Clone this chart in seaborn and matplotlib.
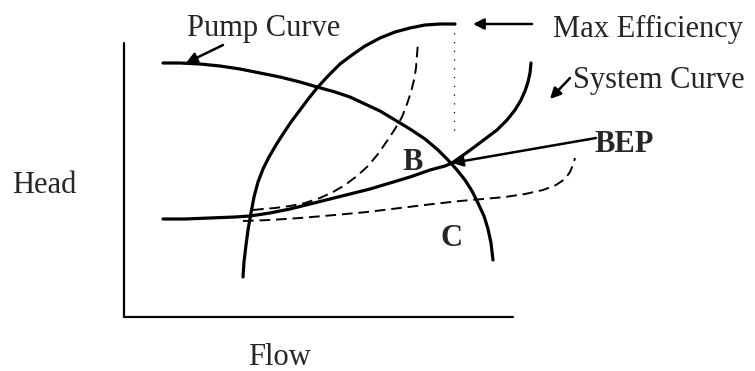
import numpy as np
import pandas as pd
import matplotlib
matplotlib.use("Agg")
import matplotlib.pyplot as plt
import seaborn as sns

# Kurven-Punkte (Pixel, y nach unten)
pump_x = [163, 180, 200, 220, 240, 260, 280, 300, 317, 335, 350, 365, 380, 395,
          410, 425, 438, 448, 457, 465, 472, 478, 484, 488, 491, 493]
pump_y = [63, 63, 64, 66, 69, 73, 77, 82, 87, 92, 97, 104, 111, 120,
          129, 139, 150, 160, 170, 180, 191, 203, 216, 229, 243, 260]

eff_x = [243, 244, 246, 248, 251, 254, 258, 263, 269, 276, 283, 291, 300, 309,
         317, 328, 340, 352, 365, 380, 395, 410, 425, 440, 455]
eff_y = [277, 262, 245, 230, 213, 197, 182, 169, 157, 145, 134, 122, 110, 98,
         88, 76, 64, 55, 46, 38, 32, 28, 25, 24, 24]

inner_x = [253, 263, 275, 290, 305, 320, 333, 345, 357, 368, 378, 387, 395, 402,
           407, 411, 414, 416, 417, 418]
inner_y = [210, 209, 208, 206, 203, 198, 192, 185, 176, 166, 154, 141, 129, 117,
           104, 92, 80, 68, 55, 42]

outer_x = [243, 270, 300, 335, 367, 400, 433, 460, 483, 505, 525, 543, 556, 565,
           570, 573, 575]
outer_y = [221, 220, 218, 215, 212, 208, 204, 201, 199, 197, 194, 190, 185, 179,
           172, 165, 158]

sys_x = [163, 185, 210, 235, 250, 270, 290, 310, 330, 350, 370, 390, 410, 430,
         445, 452, 462, 473, 485, 497, 507, 515, 521, 525, 528, 530, 531]
sys_y = [219, 219, 218, 217, 216, 213, 209, 204, 199, 194, 189, 183, 177, 170,
         166, 163, 156, 148, 139, 130, 120, 110, 100, 91, 82, 73, 63]

bep_point = (452, 163)

sns.set_theme(style="white")
plt.rcParams["font.family"] = ["Liberation Serif", "DejaVu Serif"]

W, H = 755, 371
fig = plt.figure(figsize=(W / 100, H / 100), dpi=100)
ax = fig.add_axes([0, 0, 1, 1])
ax.set_xlim(0, W)
ax.set_ylim(H, 0)
ax.axis("off")

thick = 2.3
# durchgezogene Kurven
for xs, ys in [(pump_x, pump_y), (eff_x, eff_y), (sys_x, sys_y)]:
    sns.lineplot(x=xs, y=ys, sort=False, estimator=None, ax=ax,
                 color="black", linewidth=thick)

# gestrichelte Kurven
for xs, ys in [(inner_x, inner_y), (outer_x, outer_y)]:
    sns.lineplot(x=xs, y=ys, sort=False, estimator=None, ax=ax,
                 color="black", linewidth=1.4, dashes=False,
                 linestyle=(0, (5.5, 3)))

# gepunktete Linie vom Maximum nach unten
ax.plot([454, 454], [24, 135], color="black", linewidth=0.9,
        linestyle=(0, (1, 6)))

# Achsen
ax.plot([124, 124], [43, 317], color="black", linewidth=1.6)
ax.plot([124, 513], [317, 317], color="black", linewidth=1.6)

arrow = dict(arrowstyle="-|>", color="black", lw=1.8,
             mutation_scale=16, shrinkA=0, shrinkB=0)
ax.annotate("", xy=(186, 63), xytext=(223, 45), arrowprops=arrow)
ax.annotate("", xy=(473, 24), xytext=(532, 24), arrowprops=arrow)
ax.annotate("", xy=(550, 99), xytext=(570, 78), arrowprops=arrow)
ax.annotate("", xy=bep_point, xytext=(596, 138), arrowprops=arrow)

fs = 22
ax.text(187, 36, "Pump Curve", fontsize=fs, va="baseline", ha="left")
ax.text(553, 37, "Max Efficiency", fontsize=fs, va="baseline", ha="left")
ax.text(573, 88, "System Curve", fontsize=fs, va="baseline", ha="left")
ax.text(594, 152, "BEP", fontsize=fs, fontweight="bold", va="baseline", ha="left")
ax.text(402, 170, "B", fontsize=fs, fontweight="bold", va="baseline", ha="left")
ax.text(440, 246, "C", fontsize=fs, fontweight="bold", va="baseline", ha="left")
ax.text(12, 193, "Head", fontsize=fs, va="baseline", ha="left")
ax.text(248, 365, "Flow", fontsize=fs, va="baseline", ha="left")

fig.savefig("out.png", dpi=100)
